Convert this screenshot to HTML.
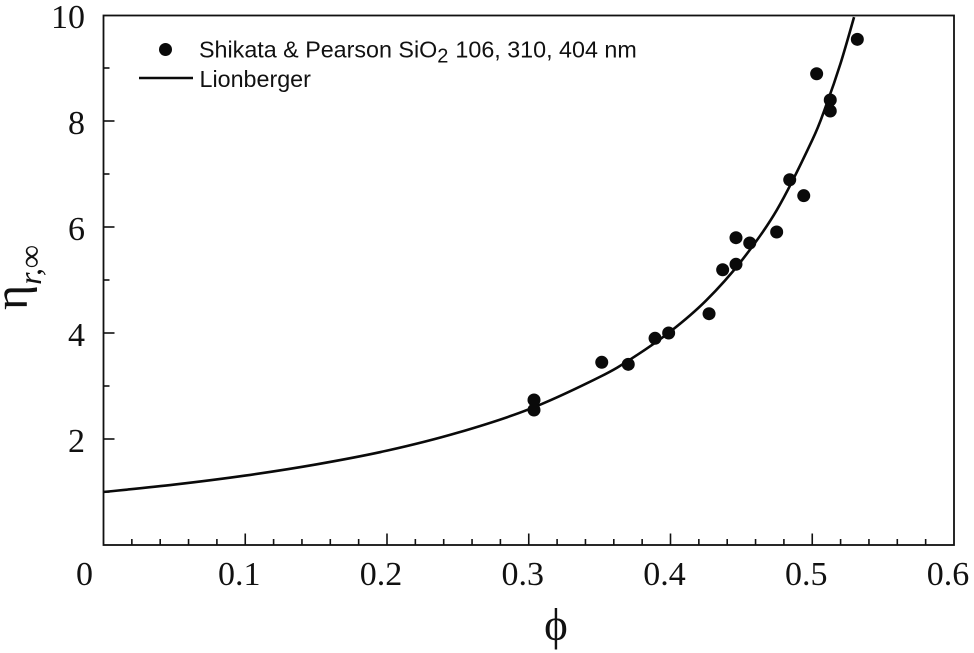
<!DOCTYPE html>
<html lang="en">
<head>
<meta charset="utf-8">
<title>Relative viscosity chart</title>
<style>
html,body{margin:0;padding:0;background:#fff;}
svg{display:block;}
.num{font-family:"Liberation Serif",serif;font-size:34px;fill:#111;}
.leg{font-family:"Liberation Sans",sans-serif;font-size:23.3px;fill:#111;}
</style>
</head>
<body>
<svg id="chart" xmlns="http://www.w3.org/2000/svg" width="974" height="653" viewBox="0 0 974 653">
  <rect width="974" height="653" fill="#fff"/>
  <g id="ticks"></g>
  <g id="labels"></g>
  <path id="curve" fill="none" stroke="#0a0a0a" stroke-width="2.6"/>
  <g id="points"></g>
  <rect x="103.5" y="15.5" width="850.5" height="529.5" fill="none" stroke="#111" stroke-width="1.8"/>
  <g>
    <circle cx="165.5" cy="49.5" r="6.5" fill="#0a0a0a"/>
    <text class="leg" x="199" y="57.5">Shikata &amp; Pearson SiO<tspan dy="5" font-size="20">2</tspan><tspan dy="-5" dx="7">106, 310, 404 nm</tspan></text>
    <line x1="139" y1="78" x2="193" y2="78" stroke="#0a0a0a" stroke-width="2.4"/>
    <text class="leg" x="199.5" y="87">Lionberger</text>
  </g>
  <text x="556" y="640" text-anchor="middle" font-family="'Liberation Serif',serif" font-size="45" fill="#111">ϕ</text>
  <text transform="translate(27,310) rotate(-90)" font-family="'Liberation Serif',serif" font-size="48" fill="#111">η<tspan font-size="32" font-style="italic" dy="14">r,∞</tspan></text>
</svg>
<script>
const xTickLabels = ["0", "0.1", "0.2", "0.3", "0.4", "0.5", "0.6"];
const yTickLabels = ["2", "4", "6", "8", "10"];
const xTickValues = [0, 0.1, 0.2, 0.3, 0.4, 0.5, 0.6];
const yTickValues = [2, 4, 6, 8, 10];
const xMinorValues = [0.02, 0.04, 0.06, 0.08, 0.12, 0.14, 0.16, 0.18, 0.22, 0.24, 0.26, 0.28, 0.32, 0.34, 0.36, 0.38, 0.42, 0.44, 0.46, 0.48, 0.52, 0.54, 0.56, 0.58];
const yMinorValues = [1, 3, 5, 7, 9];

const pointPhi = [0.3037, 0.3037, 0.3515, 0.3702, 0.3891, 0.3987, 0.4272, 0.4368, 0.4462, 0.4462, 0.4559, 0.4749, 0.4841, 0.494, 0.5031, 0.5127, 0.5127, 0.5318];
const pointEta = [2.736, 2.547, 3.447, 3.409, 3.9, 4.0, 4.364, 5.194, 5.296, 5.798, 5.698, 5.906, 6.892, 6.591, 8.892, 8.189, 8.396, 9.541];

const curvePhi = [0, 0.05, 0.1, 0.15, 0.2, 0.25, 0.3, 0.35, 0.375, 0.4, 0.425, 0.45, 0.475, 0.5, 0.51, 0.52, 0.5295];
const curveEta = [1.0, 1.14, 1.31, 1.52, 1.78, 2.12, 2.56, 3.17, 3.56, 4.03, 4.61, 5.36, 6.32, 7.64, 8.31, 9.09, 9.96];

const NS = 'http://www.w3.org/2000/svg';
const plotLeft = 103.5, plotRight = 954, plotTop = 15, plotBottom = 545;
const xMax = 0.6, yMax = 10;
function sx(v) { return plotLeft + (v / xMax) * (plotRight - plotLeft); }
function sy(v) { return plotBottom - (v / yMax) * (plotBottom - plotTop); }

const ticks = document.getElementById('ticks');
const labels = document.getElementById('labels');

function tickLine(x1, y1, x2, y2) {
  const l = document.createElementNS(NS, 'line');
  l.setAttribute('x1', x1);
  l.setAttribute('y1', y1);
  l.setAttribute('x2', x2);
  l.setAttribute('y2', y2);
  l.setAttribute('stroke', '#111');
  l.setAttribute('stroke-width', '1.6');
  ticks.appendChild(l);
  return l;
}

xTickValues.forEach(function (v, i) {
  if (v > 0 && v < xMax) {
    const l = tickLine(sx(v), plotBottom, sx(v), plotBottom - 11.5);
    
    
  }
  const t = document.createElementNS(NS, 'text');
  
  
  t.setAttribute('class', 'num');
  t.setAttribute('x', sx(v) + (v === 0 ? -19 : -6));
  t.setAttribute('y', 585);
  t.setAttribute('text-anchor', 'middle');
  t.textContent = xTickLabels[i];
  labels.appendChild(t);
});

xMinorValues.forEach(function (v) {
  const l = tickLine(sx(v), plotBottom, sx(v), plotBottom - 6);
  
  
});

yTickValues.forEach(function (v, i) {
  if (v < yMax) {
    const l = tickLine(plotLeft, sy(v), plotLeft + 11, sy(v));
    
    
  }
  const t = document.createElementNS(NS, 'text');
  
  
  t.setAttribute('class', 'num');
  t.setAttribute('x', 85);
  t.setAttribute('y', sy(v) + 13);
  t.setAttribute('text-anchor', 'end');
  t.textContent = yTickLabels[i];
  labels.appendChild(t);
});

yMinorValues.forEach(function (v) {
  const l = tickLine(plotLeft, sy(v), plotLeft + 6, sy(v));
  
  
});

const curvePixels = curvePhi.map(function (p, i) { return [sx(p), sy(curveEta[i])]; });
let d = 'M' + curvePixels[0][0] + ' ' + curvePixels[0][1];
for (let i = 0; i < curvePixels.length - 1; i++) {
  const p0 = curvePixels[Math.max(i - 1, 0)];
  const p1 = curvePixels[i];
  const p2 = curvePixels[i + 1];
  const p3 = curvePixels[Math.min(i + 2, curvePixels.length - 1)];
  d += ' C' + (p1[0] + (p2[0] - p0[0]) / 6) + ' ' + (p1[1] + (p2[1] - p0[1]) / 6) +
       ' ' + (p2[0] - (p3[0] - p1[0]) / 6) + ' ' + (p2[1] - (p3[1] - p1[1]) / 6) +
       ' ' + p2[0] + ' ' + p2[1];
}
document.getElementById('curve').setAttribute('d', d);

const pointsGroup = document.getElementById('points');
pointPhi.forEach(function (p, i) {
  const c = document.createElementNS(NS, 'circle');
  
  
  c.setAttribute('cx', sx(p));
  c.setAttribute('cy', sy(pointEta[i]));
  c.setAttribute('r', 6.5);
  c.setAttribute('fill', '#0a0a0a');
  pointsGroup.appendChild(c);
});
</script>
</body>
</html>
